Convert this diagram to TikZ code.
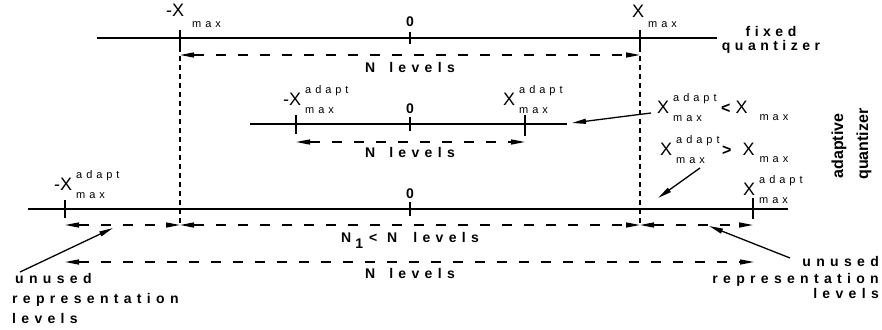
\documentclass[tikz,border=0pt]{standalone}
\usepackage{fontspec}
\setmainfont{Liberation Sans}
\usetikzlibrary{arrows.meta}
% spaced-out bold labels, spaced-out small indices, plain bold digits
\newfontfamily\bspfam[LetterSpace=38]{Liberation Sans Bold}
\newfontfamily\qspfam[LetterSpace=32]{Liberation Sans Bold}
\newfontfamily\rspfam[LetterSpace=36]{Liberation Sans}
\newfontfamily\bfam{Liberation Sans Bold}
\newcommand\tb{\bspfam\fontsize{14}{16}\selectfont}
\newcommand\tq{\qspfam\fontsize{14}{16}\selectfont}
\newcommand\ts{\rspfam\fontsize{11}{12}\selectfont}
\newcommand\tx{\fontsize{18}{19}\selectfont}
\newcommand\tz{\bfam\fontsize{14}{15}\selectfont}
\newcommand\trel{\bfam\fontsize{16}{17}\selectfont}
% x with "adapt" above and "max" below
\newcommand\xad{{\tx X}\hspace{4pt}\makebox[43pt][l]{\rlap{\raisebox{12pt}{\ts adapt}}\raisebox{-8pt}{\ts max}}}
% x with "max" below: gap, drop
\newcommand\xmx[2]{{\tx X}\hspace{#1}\raisebox{-#2}{\ts max}}

\tikzset{
  axisline/.style={line width=2pt},
  ticmark/.style={line width=2pt},
  dimline/.style={line width=1.3pt, dash pattern=on 10pt off 12pt,
    {Triangle[length=14pt,width=5pt]}-{Triangle[length=14pt,width=5pt]}},
  guide/.style={line width=1.2pt, dash pattern=on 5pt off 4pt},
  pointer/.style={line width=1.3pt, -{Triangle[length=14pt,width=5pt]}},
  lbl/.style={inner sep=0pt, anchor=base west},
  clbl/.style={inner sep=0pt, anchor=base},
}

\begin{document}
\begin{tikzpicture}[x=1pt,y=-1pt]
\useasboundingbox (0,0) rectangle (882,329);

% ---------------- fixed quantizer ----------------
\coordinate (fL) at (97,38);  \coordinate (fR) at (717,38);
\coordinate (fm) at (180,38); \coordinate (f0) at (410,38); \coordinate (fp) at (640,38);
\draw[axisline] (fL) -- (fR);
\draw[ticmark] (fm) ++(0,-8) -- ++(0,17);
\draw[ticmark] (f0) ++(0,-6) -- ++(0,12);
\draw[ticmark] (fp) ++(0,-8) -- ++(0,17);
\node[lbl] (tmL) at (166,17) {\tx -X\hspace{8pt}\raisebox{-10pt}{\ts max}};
\node[clbl] (t0) at (410,27) {\tz 0};
\node[lbl] (tmR) at (632,18) {\xmx{4pt}{10pt}};
\node[clbl] (fx1) at (771,36.5) {\tq fixed};
\node[clbl] (fx2) at (771,51) {\tq quantizer};

% guides down from +/- x_max
\coordinate (gLt) at (180,47); \coordinate (gLb) at (180,226);
\coordinate (gRt) at (640,47); \coordinate (gRb) at (640,226);
\draw[guide] (gLt) -- (gLb);
\draw[guide] (gRt) -- (gRb);

\coordinate (d1L) at (180,55); \coordinate (d1R) at (640,55);
\draw[dimline] (d1L) -- (d1R);
\node[clbl] (nl1) at (410,72) {\tb N\hspace{14pt}levels};

% ---------------- adaptive quantizer, small range ----------------
\coordinate (mL) at (250,124); \coordinate (mR) at (567,124);
\coordinate (mm) at (296,124); \coordinate (m0p) at (410,124); \coordinate (mp) at (525,124);
\draw[axisline] (mL) -- (mR);
\draw[ticmark] (mm) ++(0,-9) -- ++(0,19);
\draw[ticmark] (m0p) ++(0,-7) -- ++(0,14);
\draw[ticmark] (mp) ++(0,-9) -- ++(0,21);
\node[lbl] (mlab1) at (283,105) {{\tx -}\xad};
\node[clbl] (m0) at (410,113) {\tz 0};
\node[lbl] (mlab2) at (503,105) {\xad};

\coordinate (d2L) at (296,142); \coordinate (d2R) at (525,142);
\draw[dimline] (d2L) -- (d2R);
\node[clbl] (nl2) at (410,157) {\tb N\hspace{14pt}levels};

% ---------------- adaptive quantizer, large range ----------------
\coordinate (bLe) at (28,209); \coordinate (bRe) at (788,209);
\coordinate (bm) at (65,209); \coordinate (b0p) at (410,209); \coordinate (bp) at (753,209);
\draw[axisline] (bLe) -- (bRe);
\draw[ticmark] (bm) ++(0,-9) -- ++(0,18);
\draw[ticmark] (b0p) ++(0,-7) -- ++(0,14);
\draw[ticmark] (bp) ++(0,-11) -- ++(0,21);
\node[lbl] (blab1) at (54,190) {{\tx -}\xad};
\node[clbl] (b0) at (410,198) {\tz 0};
\node[lbl] (blab2) at (743,195) {\xad};

\coordinate (d3a) at (65,225); \coordinate (d3b) at (180,225);
\coordinate (d3c) at (640,225); \coordinate (d3d) at (753,225);
\draw[dimline] (d3a) -- (d3b);
\draw[dimline] (d3b) -- (d3c);
\draw[dimline] (d3c) -- (d3d);
\node[clbl] (nl3) at (410,242) {\tb N\hspace{4pt}\raisebox{-6pt}{1}\hspace{6pt}<\hspace{10pt}N\hspace{16pt}levels};

\coordinate (d4L) at (65,262); \coordinate (d4R) at (754,262);
\draw[dimline] (d4L) -- (d4R);
\node[clbl] (nl4) at (410,278) {\tb N\hspace{14pt}levels};

% ---------------- comparisons and side labels ----------------
\node[lbl] (cmpLT) at (657,113) {\xad\hspace{5pt}{\trel <}\hspace{5pt}\xmx{12pt}{7pt}};
\node[lbl] (cmpGT) at (660,155) {\xad\hspace{3pt}{\trel >}\hspace{11pt}\xmx{5pt}{7pt}};
\node[rotate=90, inner sep=0pt] (adp) at (839,146) {\bfam\fontsize{16}{17}\selectfont adaptive};
\node[rotate=90, inner sep=0pt] (qnt) at (864,144) {\bfam\fontsize{16}{17}\selectfont quantizer};

\coordinate (aimA) at (572,123);
\coordinate (tailB) at (700,168); \coordinate (aimB) at (658,198);
\draw[pointer] (cmpLT.base west) ++(-6,0) -- (aimA);
\draw[pointer] (tailB) -- (aimB);

% unused representation levels
\node[lbl] (uL1) at (15,283) {\tb unused};
\node[lbl] (uL2) at (12,303) {\tb representation};
\node[lbl] (uL3) at (12,323) {\tb levels};
\node[inner sep=0pt, anchor=base east] (uR1) at (879,266) {\tb unused};
\node[inner sep=0pt, anchor=base east] (uR2) at (879,283) {\tb representation};
\node[inner sep=0pt, anchor=base east] (uR3) at (879,298) {\tb levels};

\coordinate (tailL) at (20,272); \coordinate (aimL) at (113,228);
\coordinate (tailR) at (790,258); \coordinate (aimR) at (709,226);
\draw[pointer] (tailL) -- (aimL);
\draw[pointer] (tailR) -- (aimR);
\end{tikzpicture}
\end{document}
